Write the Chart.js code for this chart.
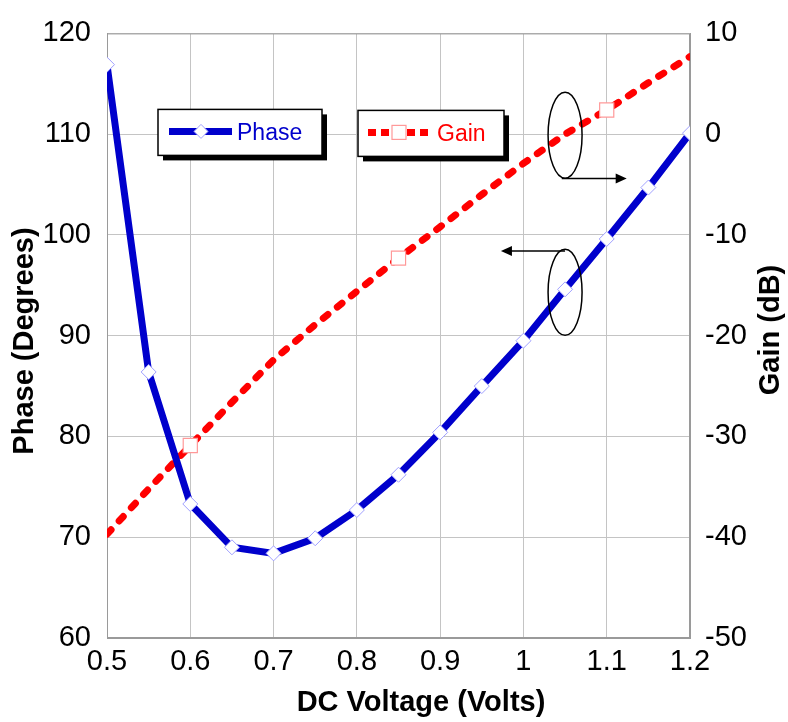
<!DOCTYPE html>
<html>
<head>
<meta charset="utf-8">
<script src="https://cdn.jsdelivr.net/npm/chart.js@4.4.1/dist/chart.umd.min.js"></script>
<style>
  html,body{margin:0;padding:0;background:#fff}
  #wrap{width:788px;height:722px}
</style>
</head>
<body>
<div id="wrap"><canvas id="c" width="788" height="722"></canvas></div>
<script>
// data (x step 0.05 V)
const voltage=[0.5,0.55,0.6,0.65,0.7,0.75,0.8,0.85,0.9,0.95,1.0,1.05,1.1,1.15,1.2];
const phase=[116.9,86.4,73.3,69.0,68.4,69.9,72.7,76.2,80.4,85.0,89.5,94.6,99.6,104.7,110.1];
const gain=[-39.7,-35.2,-30.9,-26.6,-22.4,-18.9,-15.6,-12.3,-9.2,-6.0,-2.9,0.0,2.4,5.1,7.7];
const gainMarks=[2,7,12];   // indices that carry a square marker
const xTickLabels=['0.5','0.6','0.7','0.8','0.9','1','1.1','1.2'];
const phaseTicks=['60','70','80','90','100','110','120'];
const gainTicks=['-50','-40','-30','-20','-10','0','10'];

const FONT="Arial, 'Liberation Sans', sans-serif";
const BLUE='#0000cc', RED='#ff0000';

const pts=(ys)=>voltage.map((x,i)=>({x:x,y:ys[i]}));

const deco={
  id:'deco',
  beforeDatasetsDraw(ch){
    const c=ch.ctx,a=ch.chartArea;
    c.save();
    c.strokeStyle='#9a9a9a'; c.lineWidth=1;
    c.strokeRect(a.left+0.5,a.top+0.5,a.right-a.left-1,a.bottom-a.top-1);
    c.restore();
  },
  afterDatasetsDraw(ch){
    const c=ch.ctx,a=ch.chartArea,sx=ch.scales.x,sy=ch.scales.y;
    c.save();
    // legend boxes
    function box(x,y,w,h){
      c.fillStyle='#000'; c.fillRect(x+5,y+5,w,h);
      c.fillStyle='#fff'; c.fillRect(x,y,w,h);
      c.strokeStyle='#000'; c.lineWidth=1.5; c.strokeRect(x,y,w,h);
    }
    const L=a.left,T=a.top;
    box(L+51,T+76,164,46);
    c.lineWidth=7; c.strokeStyle=BLUE; c.lineCap='butt';
    c.beginPath(); c.moveTo(L+62,T+98); c.lineTo(L+125,T+98); c.stroke();
    c.beginPath(); c.moveTo(L+94,T+91); c.lineTo(L+101,T+98); c.lineTo(L+94,T+105); c.lineTo(L+87,T+98); c.closePath();
    c.fillStyle='#fff'; c.fill(); c.lineWidth=1; c.strokeStyle='#a0a0ff'; c.stroke();
    c.font='23px '+FONT; c.fillStyle=BLUE; c.textBaseline='alphabetic'; c.textAlign='left';
    c.fillText('Phase',L+130,T+107);

    box(L+251,T+77,146,46);
    c.lineWidth=7; c.strokeStyle=RED; c.lineCap='butt'; c.setLineDash([8,5]);
    c.beginPath(); c.moveTo(L+261,T+99); c.lineTo(L+326,T+99); c.stroke();
    c.setLineDash([]);
    c.fillStyle='#fff'; c.fillRect(L+285,T+92,14,14);
    c.lineWidth=1.2; c.strokeStyle='#ff9999'; c.strokeRect(L+285,T+92,14,14);
    c.fillStyle=RED; c.fillText('Gain',L+330,T+108);

    // ellipses + arrows
    c.strokeStyle='#000'; c.fillStyle='#000'; c.lineWidth=1.5;
    function ell(xv,yv){
      c.beginPath(); c.ellipse(sx.getPixelForValue(xv),sy.getPixelForValue(yv),17,43,0,0,Math.PI*2); c.stroke();
    }
    function arrow(x1v,yv,x2v){
      const x1=sx.getPixelForValue(x1v),x2=sx.getPixelForValue(x2v),y=sy.getPixelForValue(yv);
      const d=x2>x1?1:-1;
      c.beginPath(); c.moveTo(x1,y); c.lineTo(x2-d*10,y); c.stroke();
      c.beginPath(); c.moveTo(x2,y); c.lineTo(x2-d*11,y-5); c.lineTo(x2-d*11,y+5); c.closePath(); c.fill();
    }
    ell(1.05,109.9); arrow(1.046,105.6,1.124);
    ell(1.05,94.3);  arrow(1.05,98.4,0.973);

    // axis titles
    c.fillStyle='#000'; c.font='bold 29px '+FONT; c.textAlign='center'; c.textBaseline='alphabetic';
    c.fillText('DC Voltage (Volts)',421,711);
    c.save(); c.translate(33,341); c.rotate(-Math.PI/2); c.fillText('Phase (Degrees)',0,0); c.restore();
    c.save(); c.translate(779,330); c.rotate(-Math.PI/2); c.fillText('Gain (dB)',0,0); c.restore();
    c.restore();
  }
};

const gridOpt={color:'#c4c4c4',lineWidth:1,drawTicks:false,borderDash:[3,2]};

new Chart(document.getElementById('c'),{
  type:'line',
  data:{datasets:[
    {label:'Phase',data:pts(phase),yAxisID:'y',borderColor:BLUE,borderWidth:7,tension:0,
     pointStyle:'rectRot',pointRadius:7.5,pointBackgroundColor:'#fff',pointBorderColor:'#a0a0ff',pointBorderWidth:1},
    {label:'Gain',data:pts(gain),yAxisID:'y2',borderColor:RED,borderWidth:7,tension:0,
     borderDash:[6,12],borderCapStyle:'round',
     pointStyle:'rect',pointRadius:gain.map((v,i)=>gainMarks.includes(i)?10:0),
     pointBackgroundColor:'#fff',pointBorderColor:'#ff9999',pointBorderWidth:1.2}
  ]},
  options:{
    responsive:false,animation:false,devicePixelRatio:1,
    layout:{padding:{top:26,left:0,right:0,bottom:0}},
    plugins:{legend:{display:false},tooltip:{enabled:false}},
    scales:{
      x:{type:'linear',min:0.5,max:1.2,
         ticks:{stepSize:0.1,padding:7,color:'#000',font:{family:FONT,size:29},maxRotation:0,autoSkip:false,
                callback:(v,i)=>xTickLabels[i]},
         grid:gridOpt,border:{display:true,color:'#9a9a9a'},
         afterFit:s=>{s.height=84;}},
      y:{type:'linear',position:'left',min:60,max:120,
         ticks:{stepSize:10,padding:16,color:'#000',font:{family:FONT,size:29},
                callback:(v,i)=>phaseTicks[i]},
         grid:gridOpt,border:{display:true,color:'#9a9a9a'},
         afterFit:s=>{s.width=107;}},
      y2:{type:'linear',position:'right',min:-50,max:10,
         ticks:{stepSize:10,padding:15,color:'#000',font:{family:FONT,size:29},
                callback:(v,i)=>gainTicks[i]},
         grid:{drawOnChartArea:false,drawTicks:false},border:{display:true,color:'#9a9a9a'},
         afterFit:s=>{s.width=98;}}
    }
  },
  plugins:[deco]
});
</script>
</body>
</html>
